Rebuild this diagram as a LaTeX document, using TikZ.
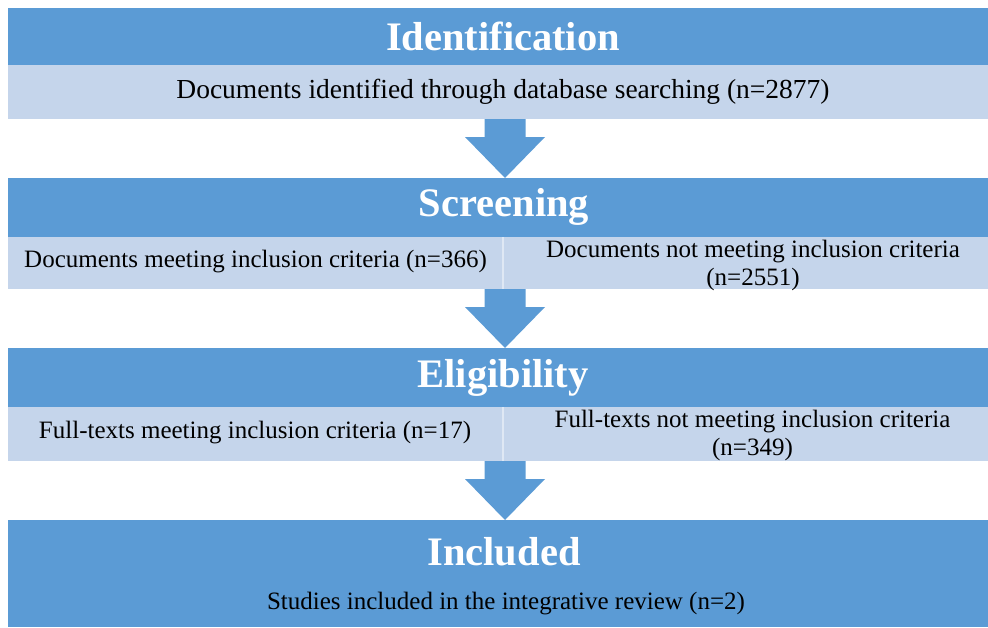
\documentclass[tikz,border=0pt]{standalone}
\usepackage{fontspec}
\setmainfont{Liberation Serif}
\usetikzlibrary{calc}
\definecolor{bandblue}{RGB}{91,155,213}
\definecolor{paleblue}{RGB}{197,213,235}
\tikzset{
  band/.style={inner sep=0pt, outer sep=0pt, anchor=north west},
  headband/.style={band, fill=bandblue, minimum height=#1},
  bodyband/.style={band, fill=paleblue, minimum height=#1},
  phasetitle/.style={text=white, inner sep=0pt, font=\fontsize{40.5}{42}\selectfont\bfseries},
  bodytext/.style={text=black, inner sep=0pt, align=center, font=\fontsize{25}{28}\selectfont},
  flowarrow/.style={fill=bandblue},
  divider/.style={draw=paleblue!55!white, line width=1.2pt},
}
% block arrow from the bottom of one band to the top of the next
\newcommand\stagearrow[2]{%
  \fill[flowarrow] let \p1=(#1.south), \p2=(#2.north) in
    (484.5pt,\y1) -- (525.5pt,\y1) -- (525.5pt,{\y2+41pt}) -- (545pt,{\y2+41pt})
    -- (505pt,\y2) -- (465pt,{\y2+41pt}) -- (484.5pt,{\y2+41pt}) -- cycle;}
\begin{document}
\begin{tikzpicture}[x=1pt,y=-1pt]
\useasboundingbox (0,0) rectangle (988,627);

% Identification
\node[headband=57pt, minimum width=980pt] (idH) at (8,8) {};
\node[phasetitle] (idT) at (503,36) {Identification};
\node[bodyband=54pt, minimum width=980pt] (idB) at (idH.south west) {};
\node[bodytext, font=\fontsize{27.5}{30}\selectfont] (idX) at (503,92) {Documents identified through database searching (n=2877)};

% Screening
\node[headband=59pt, minimum width=980pt] (scH) at (8,178) {};
\node[phasetitle] (scT) at (504,207) {Screening};
\node[bodyband=52pt, minimum width=495pt] (scL) at (scH.south west) {};
\node[bodyband=52pt, minimum width=485pt] (scR) at (scL.north east) {};
\draw[divider] (scR.north west) -- (scR.south west);
\node[bodytext] (scLX) at (255.5,262) {Documents meeting inclusion criteria (n=366)};
\node[bodytext] (scRX) at (753,265) {Documents not meeting inclusion criteria\\(n=2551)};

% Eligibility
\node[headband=59pt, minimum width=980pt] (elH) at (8,348) {};
\node[phasetitle] (elT) at (503,378) {Eligibility};
\node[bodyband=54pt, minimum width=495pt] (elL) at (elH.south west) {};
\node[bodyband=54pt, minimum width=485pt] (elR) at (elL.north east) {};
\draw[divider] (elR.north west) -- (elR.south west);
\node[bodytext] (elLX) at (255,433) {Full-texts meeting inclusion criteria (n=17)};
\node[bodytext] (elRX) at (752.5,435) {Full-texts not meeting inclusion criteria\\(n=349)};

% Included
\node[headband=107pt, minimum width=980pt] (inH) at (8,520) {};
\node[phasetitle] (inT) at (504,552) {Included};
\node[bodytext] (inX) at (506,604) {Studies included in the integrative review (n=2)};

% arrows between stages
\stagearrow{idB}{scH}
\stagearrow{scL}{elH}
\stagearrow{elL}{inH}
\end{tikzpicture}
\end{document}
